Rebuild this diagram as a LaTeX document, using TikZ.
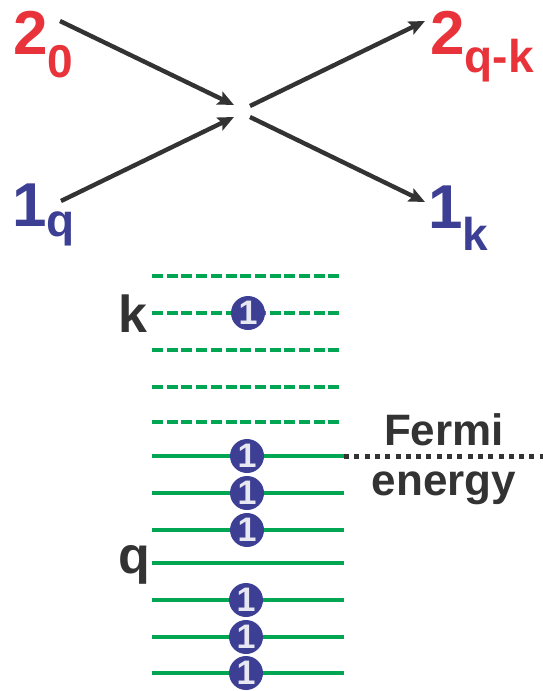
\documentclass[tikz,border=0pt]{standalone}
\usepackage{fontspec}
\setmainfont{Liberation Sans}
\usetikzlibrary{arrows.meta, positioning}

\definecolor{partred}{HTML}{E8333A}
\definecolor{partblue}{HTML}{3C3F93}
\definecolor{levelgreen}{HTML}{00A651}
\definecolor{inkgray}{HTML}{333333}

% particle label: big number with a lowered index
\newcommand{\partlabel}[3]{{\fontsize{62}{62}\selectfont #1}\raisebox{-#3}{\fontsize{46}{46}\selectfont #2}}

\begin{document}
\begin{tikzpicture}[
    x=1pt, y=-1pt,
    font=\bfseries,
    particle/.style={inner sep=0pt, anchor=base west},
    redpart/.style={particle, text=partred},
    bluepart/.style={particle, text=partblue},
    flow/.style={-{Stealth[length=16pt, width=14pt, inset=3pt]}, line width=4.4pt, draw=inkgray},
    filled/.style={draw=levelgreen, line width=4.6pt},
    empty/.style={filled, dash pattern=on 11pt off 3.7pt},
    electron/.style={circle, fill=partblue, minimum size=34pt, inner sep=0pt, text=white!88!partblue, font=\bfseries\fontsize{34}{34}\selectfont},
    side/.style={text=inkgray, font=\bfseries\fontsize{52}{52}\selectfont, inner sep=0pt, anchor=base east},
    fermi/.style={draw=inkgray, line width=5pt, dash pattern=on 5pt off 5.3pt}
]
\useasboundingbox (0,0) rectangle (543,691);

% --- SCATTERING ---
\node (two0) [redpart] at (13,54) {\partlabel{2}{0}{23pt}};
\node (oneq) [bluepart] at (12,226) {\partlabel{1}{q}{10pt}};
\node (twoqk) [redpart] at (430,54) {\partlabel{2}{q-k}{18pt}};
\node (onek) [bluepart] at (428,228) {\partlabel{1}{k}{22pt}};

\coordinate (in2) at (60,21);
\coordinate (in1) at (61,201);
\coordinate (vin2) at (234,105);
\coordinate (vin1) at (234,117);
\coordinate (vout2) at (250,106);
\coordinate (vout1) at (250,117);
\coordinate (out2) at (425,21);
\coordinate (out1) at (425,202);

\draw [flow] (in2) -- (vin2);
\draw [flow] (in1) -- (vin1);
\draw [flow] (vout2) -- (out2);
\draw [flow] (vout1) -- (out1);

% --- LEVELS ---
\foreach \i/\y in {1/276, 2/313, 3/350, 4/387, 5/422} {
    \coordinate (lvl\i w) at (152,\y);
    \coordinate (lvl\i e) at (340,\y);
    \draw [empty] (lvl\i w) -- (lvl\i e);
}
\foreach \i/\y in {6/456, 7/493, 8/530, 9/563, 10/600, 11/637, 12/673} {
    \coordinate (lvl\i w) at (152,\y);
    \coordinate (lvl\i e) at (344,\y);
    \draw [filled] (lvl\i w) -- (lvl\i e);
}

% electrons
\node (ek) [electron] at (248,313) {1};
\node (e6) [electron] at (247,456) {1};
\node (e7) [electron] at (247,493) {1};
\node (e8) [electron] at (247,530) {1};
\node (e10) [electron] at (246,600) {1};
\node (e11) [electron] at (246,637) {1};
\node (e12) [electron] at (246,673) {1};

\node (klabel) [side] at (148,332) {k};
\node (qlabel) [side] at (150,573) {q};

% --- FERMI ---
\coordinate (fermiend) at (543,456);
\draw [fermi] (lvl6e) -- (fermiend);
\node (fermilabel) [text=inkgray, align=center, font=\bfseries\fontsize{44}{50}\selectfont, inner sep=0pt] at (444,459) {Fermi\\energy};

\end{tikzpicture}
\end{document}
